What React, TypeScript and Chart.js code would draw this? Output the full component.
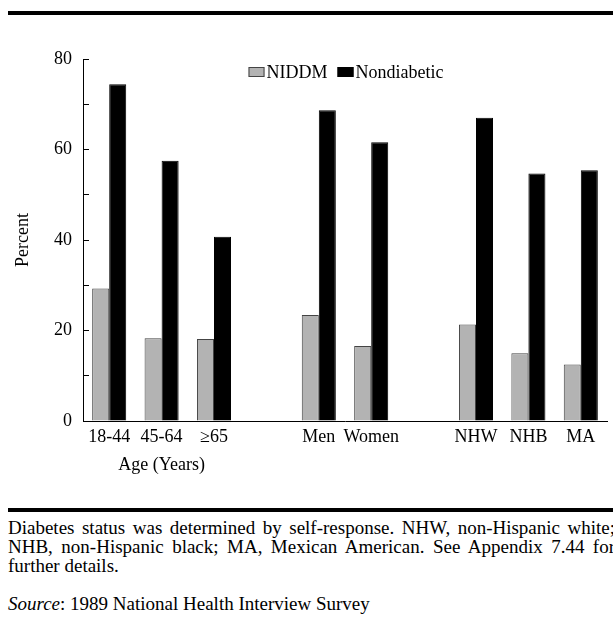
import React, { useEffect, useRef } from "react";
import { Chart, registerables } from "chart.js";

Chart.register(...registerables);

// ---- Data ----
const categories = ["18-44", "45-64", "≥65", "", "Men", "Women", "", "NHW", "NHB", "MA"];
const niddm = [29.3, 18.3, 18.1, null, 23.4, 16.6, null, 21.3, 15.0, 12.5];
const nondiabetic = [74.4, 57.5, 40.7, null, 68.7, 61.6, null, 67.0, 54.7, 55.4];
const seriesNames = ["NIDDM", "Nondiabetic"];
const yMin = 0;
const yMax = 80;
const yStep = 10;
const yLabelEvery = 20;
const yTitle = "Percent";
const ageGroupCategory = "45-64";
const ageGroupTitle = "Age (Years)";
const noteLines = [
  "Diabetes status was determined by self-response. NHW, non-Hispanic white;",
  "NHB, non-Hispanic black; MA, Mexican American. See Appendix 7.44 for",
  "further details.",
];
const sourceLabel = "Source";
const sourceText = ": 1989 National Health Interview Survey";

const FONT = '"Liberation Serif", "Times New Roman", serif';

const insideLegend = {
  id: "insideLegend",
  afterDatasetsDraw(chart: any) {
    const { ctx, chartArea } = chart;
    ctx.save();
    ctx.font = `18px ${FONT}`;
    const boxW = 16;
    const boxH = 10;
    const gap = 2;
    const itemGap = 10;
    const items = chart.data.datasets.map((ds: any) => ({
      text: ds.label,
      fill: ds.backgroundColor,
      stroke: ds.borderColor,
      w: boxW + gap + ctx.measureText(ds.label).width,
    }));
    const total = items.reduce((s: number, i: any) => s + i.w, 0) + itemGap * (items.length - 1);
    let x = (chartArea.left + chartArea.right) / 2 - total / 2 + 1;
    const cy = chartArea.top + 13;
    ctx.textBaseline = "middle";
    ctx.textAlign = "left";
    for (const it of items) {
      ctx.fillStyle = it.fill;
      ctx.fillRect(x, cy - boxH / 2, boxW, boxH);
      ctx.strokeStyle = it.stroke;
      ctx.lineWidth = 1;
      ctx.strokeRect(x + 0.5, cy - boxH / 2 + 0.5, boxW - 1, boxH - 1);
      ctx.fillStyle = "#000";
      ctx.fillText(it.text, x + boxW + gap, cy + 1);
      x += it.w + itemGap;
    }
    ctx.restore();
  },
};

function BarChart() {
  const ref = useRef<HTMLCanvasElement | null>(null);
  useEffect(() => {
    if (!ref.current) return;
    const chart = new Chart(ref.current, {
      type: "bar",
      data: {
        labels: categories,
        datasets: [
          {
            label: seriesNames[0],
            data: niddm,
            backgroundColor: "#b3b3b3",
            borderColor: "#444444",
            borderWidth: 1,
            categoryPercentage: 0.65,
            barPercentage: 1,
          },
          {
            label: seriesNames[1],
            data: nondiabetic,
            backgroundColor: "#000000",
            borderColor: "#000000",
            borderWidth: 1,
            categoryPercentage: 0.65,
            barPercentage: 1,
          },
        ],
      },
      options: {
        animation: false,
        responsive: false,
        maintainAspectRatio: false,
        layout: { padding: { left: 0, right: 6, top: 59, bottom: 0 } },
        plugins: {
          legend: { display: false },
          tooltip: { enabled: false },
        },
        scales: {
          x: {
            type: "category",
            offset: true,
            grid: { display: false, drawTicks: false },
            border: { display: true, color: "#000", width: 1 },
            afterFit: (s: any) => {
              s.height = 79;
            },
            ticks: {
              autoSkip: false,
              maxRotation: 0,
              minRotation: 0,
              padding: 2,
              color: "#000",
              font: { family: FONT, size: 18, lineHeight: 1.55 },
              callback: function (this: any, _v: any, i: number) {
                const lab = categories[i];
                return lab === ageGroupCategory ? [lab, ageGroupTitle] : lab;
              },
            },
          },
          y: {
            min: yMin,
            max: yMax,
            grid: {
              display: true,
              drawOnChartArea: false,
              drawTicks: true,
              tickLength: -6,
              color: "#000",
            },
            border: { display: true, color: "#000", width: 1 },
            afterFit: (s: any) => {
              s.width = 83;
            },
            ticks: {
              stepSize: yStep,
              padding: 17,
              color: "#000",
              font: { family: FONT, size: 18 },
              callback: (v: any) => (Number(v) % yLabelEvery === 0 ? String(v) : ""),
            },
            title: {
              display: true,
              text: yTitle,
              color: "#000",
              font: { family: FONT, size: 18 },
              padding: { top: 12, bottom: 0 },
            },
          },
        },
      },
      plugins: [insideLegend],
    } as any);
    return () => chart.destroy();
  }, []);
  return (
    <canvas
      ref={ref}
      width={613}
      height={500}
      style={{ position: "absolute", left: 0, top: 0, width: 613, height: 500 }}
    />
  );
}

export default function App() {
  const lineStyle: React.CSSProperties = {
    textAlign: "justify",
    textAlignLast: "justify" as any,
    whiteSpace: "normal",
  };
  return (
    <div
      style={{
        position: "fixed",
        left: 0,
        top: 0,
        width: 613,
        height: 625,
        overflow: "hidden",
        background: "#fff",
      }}
    >
      <div style={{ position: "absolute", left: 8, top: 11, width: 605, height: 4, background: "#000" }} />
      <BarChart />
      <div style={{ position: "absolute", left: 8, top: 508, width: 605, height: 4, background: "#000" }} />
      <div
        style={{
          position: "absolute",
          left: 8,
          top: 518,
          width: 607,
          fontFamily: FONT,
          fontSize: 19,
          lineHeight: "19px",
          color: "#000",
        }}
      >
        <div style={lineStyle}>{noteLines[0]}</div>
        <div style={lineStyle}>{noteLines[1]}</div>
        <div>{noteLines[2]}</div>
      </div>
      <div
        style={{
          position: "absolute",
          left: 8,
          top: 594,
          fontFamily: FONT,
          fontSize: 19,
          lineHeight: "19px",
          color: "#000",
          whiteSpace: "nowrap",
        }}
      >
        <i>{sourceLabel}</i>
        {sourceText}
      </div>
    </div>
  );
}
